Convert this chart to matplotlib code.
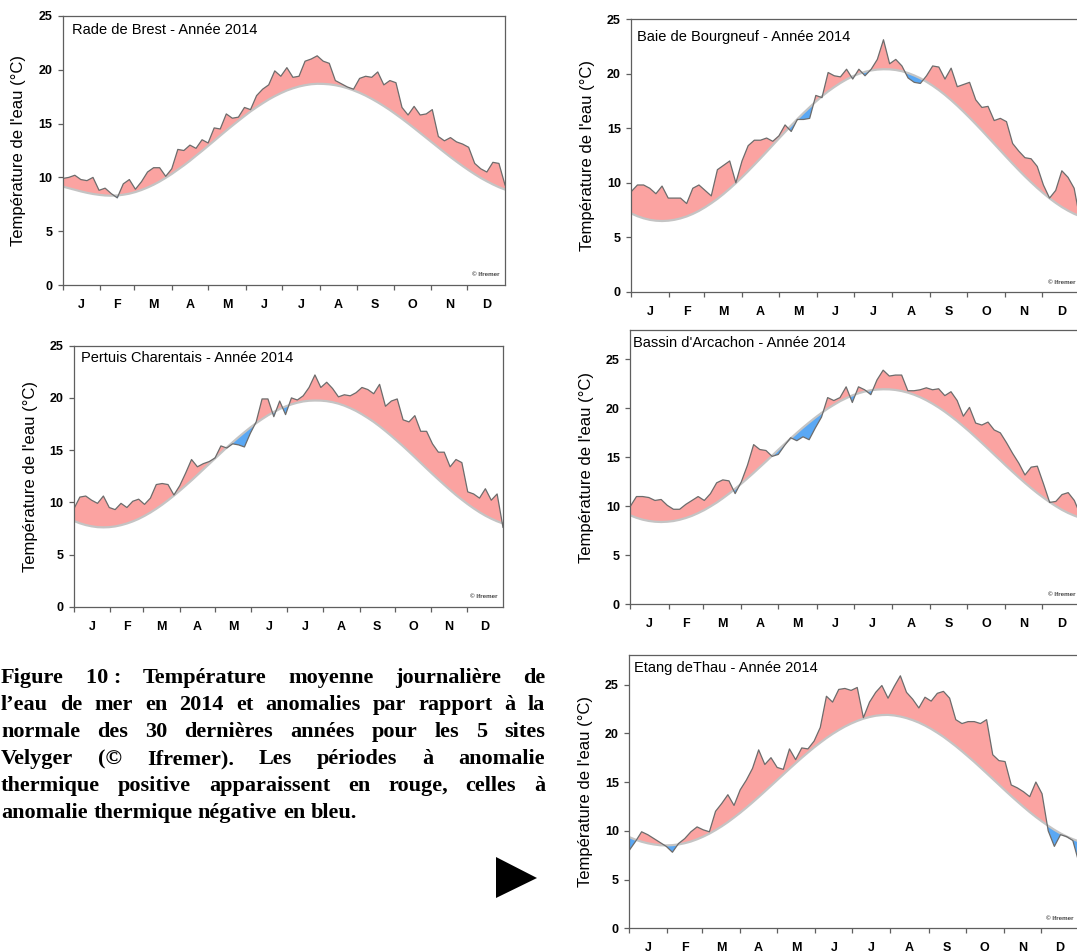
import matplotlib
matplotlib.use('Agg')
import matplotlib.pyplot as plt
from matplotlib.patches import Polygon
import numpy as np

W, H = 1077, 952

# one value every 5 days, day 0 = 1 January 2014
days = np.arange(0, 366, 5)
month_starts = [0, 31, 59, 90, 120, 151, 181, 212, 243, 273, 304, 334, 365]
month_labels = ['J', 'F', 'M', 'A', 'M', 'J', 'J', 'A', 'S', 'O', 'N', 'D']
yticks = [0, 5, 10, 15, 20, 25]

brest_obs = [9.9, 10.0, 10.2, 9.8, 9.7, 10.0, 8.8, 9.0, 8.5, 8.1,
             9.4, 9.8, 8.9, 9.6, 10.5, 10.9, 10.9, 10.1, 10.8, 12.6,
             12.5, 13.0, 12.7, 13.5, 13.2, 14.6, 14.5, 15.9, 15.5, 15.6,
             16.5, 16.3, 17.6, 18.2, 18.6, 19.9, 19.4, 20.2, 19.3, 19.4,
             20.8, 21.0, 21.3, 20.8, 20.6, 19.0, 18.7, 18.4, 18.2, 19.2,
             19.4, 19.3, 19.8, 18.6, 19.0, 18.8, 16.5, 15.8, 16.6, 15.8,
             15.9, 16.3, 13.8, 13.4, 13.7, 13.3, 13.1, 12.8, 11.3, 10.8,
             10.5, 11.4, 11.3, 9.3]
brest_norm = [9.15, 9.00, 8.85, 8.70, 8.57, 8.46, 8.38, 8.32, 8.30, 8.32,
              8.39, 8.49, 8.64, 8.83, 9.06, 9.32, 9.62, 9.96, 10.32, 10.72,
              11.12, 11.55, 12.01, 12.46, 12.93, 13.40, 13.88, 14.35, 14.81, 15.26,
              15.70, 16.13, 16.52, 16.89, 17.24, 17.55, 17.83, 18.08, 18.28, 18.45,
              18.57, 18.66, 18.70, 18.69, 18.65, 18.57, 18.45, 18.29, 18.09, 17.86,
              17.60, 17.30, 16.98, 16.63, 16.26, 15.86, 15.45, 15.02, 14.58, 14.13,
              13.68, 13.23, 12.78, 12.33, 11.89, 11.47, 11.06, 10.67, 10.30, 9.95,
              9.64, 9.35, 9.09, 8.87]

pertuis_obs = [9.4, 10.5, 10.6, 10.2, 9.9, 10.6, 9.5, 9.3, 9.9, 9.5,
               10.1, 10.3, 9.8, 10.4, 11.7, 11.8, 11.7, 10.7, 11.6, 12.8,
               14.1, 13.4, 13.7, 13.9, 14.25, 15.4, 15.2, 15.6, 15.5, 15.3,
               16.6, 17.7, 19.9, 19.9, 18.2, 19.7, 18.4, 20.0, 19.8, 20.2,
               21.0, 22.2, 21.0, 21.5, 20.9, 20.1, 20.3, 20.2, 20.5, 21.0,
               20.8, 20.4, 21.3, 19.2, 19.7, 19.9, 17.9, 17.7, 18.3, 16.8,
               16.8, 15.6, 14.8, 14.8, 13.4, 14.1, 13.8, 11.0, 10.8, 10.4,
               11.3, 10.2, 10.8, 7.6]
pertuis_norm = [8.21, 7.99, 7.82, 7.70, 7.62, 7.60, 7.62, 7.69, 7.81, 7.97,
                8.17, 8.41, 8.70, 9.02, 9.38, 9.77, 10.19, 10.64, 11.11, 11.60,
                12.10, 12.62, 13.15, 13.67, 14.20, 14.73, 15.25, 15.75, 16.24, 16.71,
                17.16, 17.58, 17.97, 18.33, 18.65, 18.94, 19.18, 19.38, 19.54, 19.66,
                19.73, 19.75, 19.74, 19.69, 19.59, 19.45, 19.26, 19.02, 18.75, 18.43,
                18.08, 17.70, 17.28, 16.83, 16.36, 15.87, 15.37, 14.85, 14.32, 13.78,
                13.24, 12.71, 12.19, 11.68, 11.18, 10.70, 10.25, 9.82, 9.42, 9.05,
                8.72, 8.43, 8.18, 7.97]

bourgneuf_obs = [9.2, 9.8, 9.8, 9.5, 9.0, 9.7, 8.6, 8.6, 8.6, 8.1,
                 9.5, 9.8, 9.3, 8.8, 11.2, 11.6, 12.0, 10.0, 12.0, 13.4,
                 13.9, 13.9, 14.1, 13.8, 14.3, 15.3, 14.7, 15.8, 15.8, 15.9,
                 18.0, 17.8, 20.1, 19.8, 19.7, 20.4, 19.5, 20.4, 19.8, 20.4,
                 21.3, 23.1, 20.9, 21.3, 20.7, 19.6, 19.2, 19.1, 19.8, 20.7,
                 20.6, 19.5, 20.5, 18.8, 19.0, 19.2, 17.6, 16.9, 17.0, 15.7,
                 15.9, 15.6, 13.6, 12.9, 12.3, 12.2, 11.5, 9.8, 8.6, 9.3,
                 11.1, 10.5, 9.5, 6.5]
bourgneuf_norm = [7.19, 6.94, 6.75, 6.61, 6.53, 6.50, 6.53, 6.61, 6.74, 6.92,
                  7.15, 7.43, 7.76, 8.13, 8.53, 8.98, 9.46, 9.97, 10.51, 11.07,
                  11.65, 12.24, 12.84, 13.45, 14.06, 14.66, 15.25, 15.83, 16.39, 16.92,
                  17.44, 17.92, 18.37, 18.77, 19.14, 19.47, 19.75, 19.98, 20.16, 20.29,
                  20.37, 20.40, 20.39, 20.33, 20.22, 20.05, 19.83, 19.57, 19.25, 18.89,
                  18.49, 18.05, 17.57, 17.06, 16.52, 15.96, 15.38, 14.79, 14.18, 13.57,
                  12.96, 12.35, 11.75, 11.16, 10.59, 10.05, 9.53, 9.04, 8.58, 8.16,
                  7.78, 7.45, 7.16, 6.93]

arcachon_obs = [10.0, 11.0, 11.0, 10.9, 10.6, 10.7, 10.1, 9.7, 9.7, 10.2,
                10.6, 11.0, 10.6, 11.3, 12.4, 12.7, 12.6, 11.3, 12.5, 14.2,
                16.3, 15.8, 15.7, 15.1, 15.3, 16.2, 17.0, 16.7, 17.1, 16.8,
                18.0, 19.1, 21.1, 20.8, 21.1, 22.2, 20.6, 22.2, 21.9, 21.4,
                22.9, 23.9, 23.3, 23.4, 23.4, 21.8, 21.8, 21.9, 22.1, 21.9,
                22.0, 21.3, 21.7, 20.8, 19.2, 20.1, 18.5, 18.3, 18.6, 17.8,
                17.5, 16.5, 15.4, 14.4, 13.2, 14.0, 14.1, 12.3, 10.4, 10.5,
                11.2, 11.4, 10.6, 9.1]
arcachon_norm = [9.08, 8.83, 8.64, 8.51, 8.43, 8.40, 8.43, 8.50, 8.63, 8.81,
                 9.03, 9.31, 9.62, 9.99, 10.38, 10.82, 11.29, 11.79, 12.31, 12.86,
                 13.42, 14.00, 14.58, 15.17, 15.77, 16.35, 16.93, 17.49, 18.04, 18.56,
                 19.06, 19.53, 19.97, 20.36, 20.73, 21.04, 21.32, 21.54, 21.72, 21.85,
                 21.92, 21.95, 21.94, 21.88, 21.77, 21.61, 21.40, 21.14, 20.83, 20.48,
                 20.09, 19.66, 19.19, 18.70, 18.17, 17.63, 17.06, 16.48, 15.89, 15.29,
                 14.70, 14.10, 13.52, 12.95, 12.39, 11.86, 11.35, 10.88, 10.43, 10.02,
                 9.64, 9.32, 9.05, 8.82]

thau_obs = [8.0, 8.9, 9.9, 9.6, 9.2, 8.8, 8.4, 7.8, 8.7, 9.2,
            9.9, 10.4, 10.1, 9.9, 12.0, 12.8, 13.7, 12.6, 14.2, 15.2,
            16.4, 18.3, 16.8, 17.5, 16.5, 16.3, 18.4, 17.3, 18.5, 18.4,
            19.2, 20.6, 23.8, 23.2, 24.5, 24.6, 24.4, 24.7, 21.6, 23.2,
            24.2, 24.9, 23.6, 24.8, 25.9, 24.2, 23.5, 22.6, 23.7, 23.3,
            24.1, 24.3, 23.6, 21.4, 21.0, 21.2, 21.2, 21.0, 21.4, 17.8,
            17.2, 17.1, 14.7, 14.4, 14.0, 13.5, 15.0, 13.8, 10.0, 8.4,
            9.6, 9.4, 9.0, 6.7]
thau_norm = [9.35, 9.09, 8.88, 8.72, 8.60, 8.52, 8.50, 8.53, 8.60, 8.73,
             8.90, 9.13, 9.40, 9.71, 10.07, 10.46, 10.89, 11.36, 11.85, 12.37,
             12.91, 13.47, 14.04, 14.62, 15.20, 15.78, 16.36, 16.93, 17.49, 18.03,
             18.55, 19.04, 19.51, 19.94, 20.33, 20.69, 21.00, 21.27, 21.50, 21.67,
             21.80, 21.87, 21.89, 21.83, 21.72, 21.56, 21.35, 21.10, 20.80, 20.45,
             20.06, 19.64, 19.17, 18.68, 18.16, 17.62, 17.07, 16.49, 15.91, 15.32,
             14.73, 14.14, 13.56, 13.00, 12.45, 11.92, 11.42, 10.95, 10.51, 10.10,
             9.73, 9.41, 9.14, 8.91]

caption = [
    ("Figure 10\u00a0: Température moyenne journalière de", True),
    ("l’eau de mer en 2014 et anomalies par rapport à la", True),
    ("normale des 30 dernières années pour les 5 sites", True),
    ("Velyger (© Ifremer). Les périodes à anomalie", True),
    ("thermique positive apparaissent en rouge, celles à", True),
    ("anomalie thermique négative en bleu.", False),
]

RED = '#fba3a1'
BLUE = '#5aa8f4'
SPINE = '#5f5f5f'

plt.rcParams['font.family'] = ['Liberation Sans', 'DejaVu Sans']

fig = plt.figure(figsize=(W / 100, H / 100), dpi=100)


def panel(box, title, title_off, obs, norm, ytop):
    # box is left, top, right, bottom in pixels
    l, t, r, b = box
    w, h = r - l, b - t
    ax = fig.add_axes([l / W, 1 - b / H, w / W, h / H])
    obs = np.array(obs)
    norm = np.array(norm)
    ax.fill_between(days, obs, norm, where=obs >= norm, interpolate=True,
                    color=RED, lw=0)
    ax.fill_between(days, obs, norm, where=obs <= norm, interpolate=True,
                    color=BLUE, lw=0)
    ax.plot(days, norm, color='#c4c4c4', lw=1.6)
    ax.plot(days, obs, color='#6c6c6c', lw=0.9)
    ax.set_xlim(0, 365)
    ax.set_ylim(0, ytop)

    ax.set_yticks(yticks)
    ax.set_yticklabels([str(v) for v in yticks], fontsize=9, fontweight='bold')
    ax.tick_params(axis='y', length=3.5, width=0.9, color=SPINE, pad=4)

    ax.set_xticks(month_starts[:12])
    ax.tick_params(axis='x', which='major', length=3.5, width=0.9,
                   color=SPINE, labelbottom=False)
    mids = [(a + c) / 2 for a, c in zip(month_starts[:-1], month_starts[1:])]
    ax.set_xticks(mids, minor=True)
    ax.set_xticklabels(month_labels, minor=True, fontsize=9, fontweight='bold')
    ax.tick_params(axis='x', which='minor', length=0, pad=10)

    for s in ax.spines.values():
        s.set_color(SPINE)
        s.set_linewidth(0.9)

    ax.set_ylabel("Température de l'eau (°C)", fontsize=12, va='center')
    ax.yaxis.set_label_coords(-44 / w, 0.5)

    dx, dy = title_off
    ax.annotate(title, xy=(0, 1), xycoords='axes fraction',
                xytext=(dx * 0.72, -dy * 0.72), textcoords='offset points',
                ha='left', va='center', fontsize=10.5)
    ax.text(1 - 5 / w, 10 / h, '© Ifremer', transform=ax.transAxes,
            ha='right', va='center', fontsize=4.5, fontweight='bold',
            color='#444444')
    return ax


panel((62.7, 16, 505, 285), 'Rade de Brest - Année 2014', (9, 14.5),
      brest_obs, brest_norm, 25)
panel((74, 345.7, 503, 606.7), 'Pertuis Charentais - Année 2014', (7, 12.7),
      pertuis_obs, pertuis_norm, 25)
panel((631.3, 19, 1080.3, 292), 'Baie de Bourgneuf - Année 2014', (5.7, 17.7),
      bourgneuf_obs, bourgneuf_norm, 25)
panel((630.3, 330, 1080.5, 604.3), "Bassin d'Arcachon - Année 2014", (3, 12.7),
      arcachon_obs, arcachon_norm, 28)
panel((629.3, 655.3, 1079, 928.3), 'Etang deThau - Année 2014', (5, 13),
      thau_obs, thau_norm, 28)

# justified caption, placed word by word
renderer = fig.canvas.get_renderer()
x_left, x_right = 1, 545
space = 16 * 0.25 * 100 / 72
for i, (line, justify) in enumerate(caption):
    yb = 683 + 27 * i
    words = line.split(' ')
    texts = [fig.text(0, 1 - yb / H, wd, fontsize=16, fontweight='bold',
                      family='Liberation Serif', va='baseline', ha='left')
             for wd in words]
    widths = [tx.get_window_extent(renderer).width for tx in texts]
    if justify:
        gap = (x_right - x_left - sum(widths)) / (len(words) - 1)
    else:
        gap = space
    x = x_left
    for tx, wd in zip(texts, widths):
        tx.set_x(x / W)
        x += wd + gap

tri = [(496, 857), (496, 898), (537, 878)]
fig.add_artist(Polygon([(px / W, 1 - py / H) for px, py in tri], closed=True,
                       transform=fig.transFigure, facecolor='black',
                       edgecolor='none'))

fig.savefig('out.png', dpi=100)
